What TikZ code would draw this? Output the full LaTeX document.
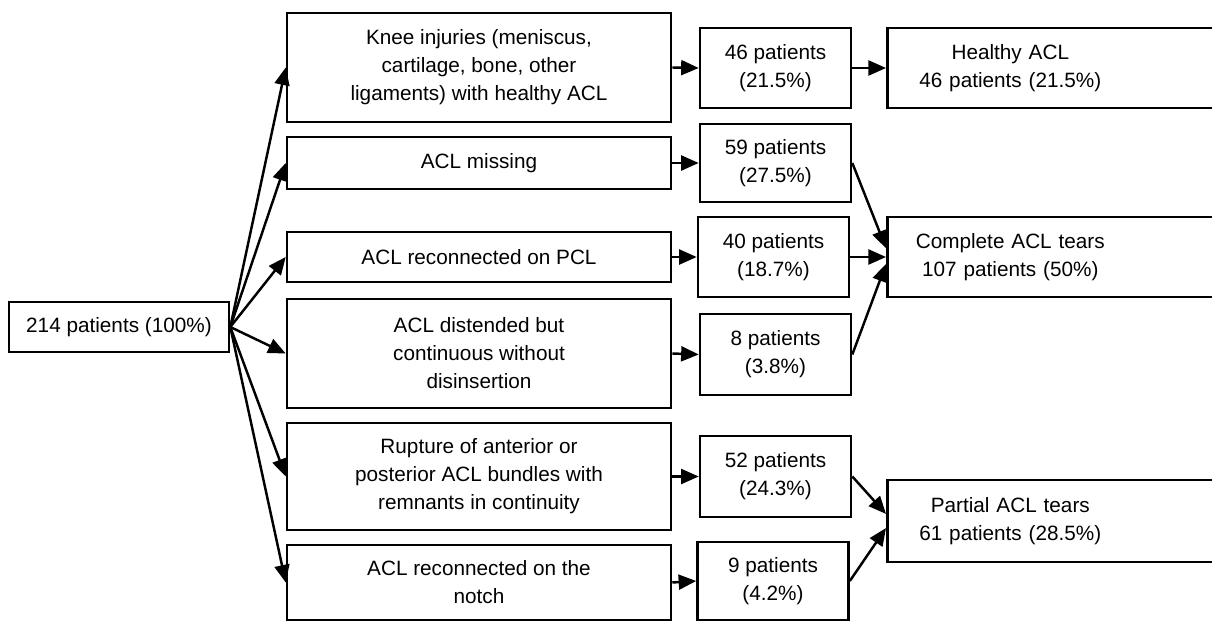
\documentclass[tikz,border=0pt]{standalone}
\usepackage{fontspec}
\setmainfont{Liberation Sans}
\usetikzlibrary{arrows.meta}

% result lines are centred left of the (cut) box middle
\newcommand{\resline}[1]{\makebox[4.92cm][c]{#1}}

\begin{document}
\begin{tikzpicture}[x=0.02cm, y=-0.02cm,
  box/.style={draw, line width=1.5pt, align=center, inner sep=0pt,
    font=\fontsize{11.8}{15.9}\selectfont},
  cat/.style={box, minimum width=7.68cm},
  cnt/.style={box, minimum width=3.02cm},
  res/.style={box, anchor=west, text width=6.68cm, align=left},
  arr/.style={-{Triangle[length=10pt, width=8.5pt]}, line width=1.4pt}]
  \useasboundingbox (0,0) rectangle (1212,621);

  % all patients
  \node[box, minimum width=4.4cm, minimum height=1cm] (root) at (119,327) {214 patients (100\%)};

  % arthroscopic findings
  \node[cat, minimum height=2.18cm] (c1) at (479,67.5) {Knee injuries (meniscus,\\cartilage, bone, other\\ligaments) with healthy ACL};
  \node[cat, minimum height=1.04cm] (c2) at (479,163) {ACL missing};
  \node[cat, minimum height=1cm] (c3) at (479,257) {ACL reconnected on PCL};
  \node[cat, minimum height=2.18cm] (c4) at (479,353.5) {ACL distended but\\continuous without\\disinsertion};
  \node[cat, minimum height=2.14cm] (c5) at (479,476.5) {Rupture of anterior or\\posterior ACL bundles with\\remnants in continuity};
  \node[cat, minimum height=1.5cm] (c6) at (479,582.5) {ACL reconnected on the\\notch};

  % counts
  \node[cnt, minimum height=1.6cm] (p1) at (775.5,68) {46 patients\\(21.5\%)};
  \node[cnt, minimum height=1.56cm] (p2) at (775.5,163) {59 patients\\(27.5\%)};
  \node[cnt, minimum height=1.6cm] (p3) at (773.5,257) {40 patients\\(18.7\%)};
  \node[cnt, minimum height=1.62cm] (p4) at (775.5,354.5) {8 patients\\(3.8\%)};
  \node[cnt, minimum height=1.62cm] (p5) at (775.5,476.5) {52 patients\\(24.3\%)};
  \node[cnt, minimum height=1.56cm] (p6) at (773,581) {9 patients\\(4.2\%)};

  % groups
  \node[res, minimum height=1.6cm] (r1) at (886,68) {\resline{Healthy ACL}\\\resline{46 patients (21.5\%)}};
  \node[res, minimum height=1.6cm] (r2) at (886,257) {\resline{Complete ACL tears}\\\resline{107 patients (50\%)}};
  \node[res, minimum height=1.64cm] (r3) at (886,521) {\resline{Partial ACL tears}\\\resline{61 patients (28.5\%)}};

  % connectors
  \foreach \i in {1,...,6} {
    \draw[arr] (root.east) -- (c\i.west);
    \draw[arr] (c\i.east) -- (p\i.west);
  }
  \draw[arr] (p1.east) -- (r1.west);
  \draw[arr] (p2.east) -- ([yshift=5pt]r2.west);
  \draw[arr] (p3.east) -- (r2.west);
  \draw[arr] (p4.east) -- ([yshift=-4pt]r2.west);
  \draw[arr] (p5.east) -- ([yshift=4pt]r3.west);
  \draw[arr] (p6.east) -- ([yshift=-4pt]r3.west);
\end{tikzpicture}
\end{document}
